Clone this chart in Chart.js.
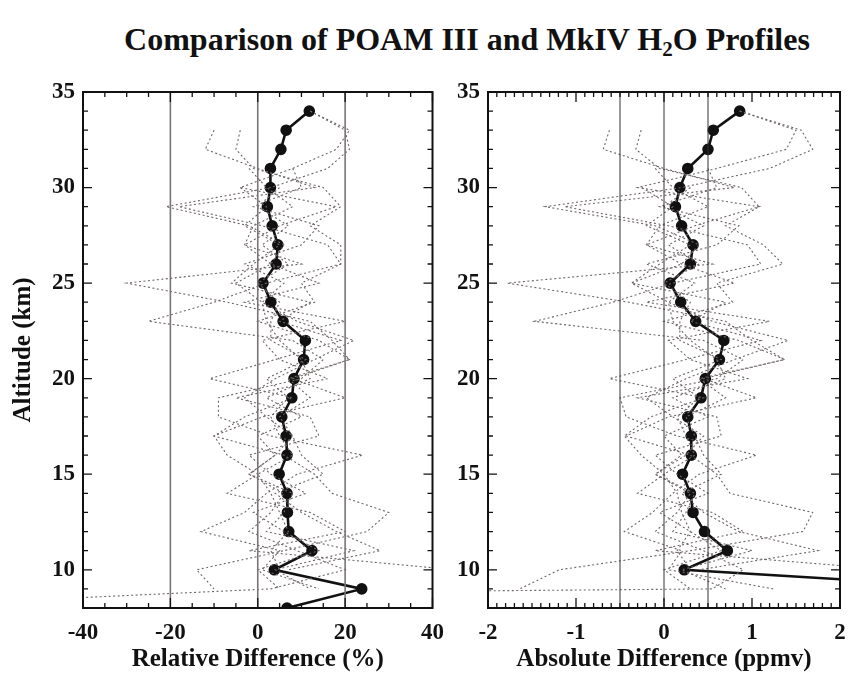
<!DOCTYPE html>
<html>
<head>
<meta charset="utf-8">
<script src="https://cdn.jsdelivr.net/npm/chart.js@4.4.1/dist/chart.umd.min.js"></script>
<style>
  body { margin: 0; background: #fff; width: 859px; height: 675px; position: relative; overflow: hidden; }
  #title { position: absolute; top: 21px; left: 0; width: 934px; text-align: center;
           font-family: "Liberation Serif", serif; font-weight: bold; font-size: 32px; color: #111; }
  #title sub { font-size: 21px; vertical-align: -6px; line-height: 0; }
  canvas { position: absolute; top: 0; }
  #relChart { left: 0; }
  #absChart { left: 440px; }
</style>
</head>
<body>
<div id="title">Comparison of POAM III and MkIV H<sub>2</sub>O Profiles</div>
<canvas id="relChart" width="455" height="675"></canvas>
<canvas id="absChart" width="419" height="675"></canvas>
<script>
// Altitude grid (km), top to bottom
const altitudes = [34, 33, 32, 31, 30, 29, 28, 27, 26, 25, 24, 23, 22, 21, 20, 19, 18, 17, 16, 15, 14, 13, 12, 11, 10, 9, 8];

// Mean differences (solid line)
const relMean = [11.8, 6.5, 5.3, 2.9, 2.9, 2.2, 3.3, 4.6, 4.2, 1.2, 3.0, 5.8, 10.9, 10.5, 8.3, 7.8, 5.5, 6.5, 6.7, 4.9, 6.7, 6.8, 7.1, 12.4, 3.8, 23.8, 6.7];
const absMean = [0.86, 0.56, 0.50, 0.27, 0.18, 0.13, 0.20, 0.33, 0.30, 0.07, 0.19, 0.36, 0.68, 0.63, 0.47, 0.42, 0.27, 0.31, 0.31, 0.21, 0.30, 0.33, 0.46, 0.72, 0.23, 3.8, 2.7];

// Individual coincidences (dotted lines), relative difference (%)
const relProfiles = [
  [12, 20, 21, 16, 3, -21, -2, 6, 3, -5, 1, 9, 22, 13, 4, -3, 2, 8, 4, -2, 6, 3, -2, 9, 20, 3, -92],
  [12, 21, 18, 8, -4, 18, 5, -3, 10, -30, -7, 12, 17, 21, 8, 20, 1, -10, 6, 13, 17, 30, 25, 6, -14, -10, null],
  [null, -10, -12, 0, 13, -18, 1, 16, 19, 2, -10, -25, 8, 15, 10, -9, -9, 3, 24, 9, 2, -3, -13, 5, 1, 14, null],
  [null, -4, -5, -1, 15, 19, 12, 19, 19, 10, 13, 0, 14, 21, 7, 12, 5, 8, 10, 15, 4, 10, 18, 28, 7, null, null],
  [null, null, null, null, -4, 2, -3, 5, -1, -6, 12, 5, 19, 4, -11, 8, -3, -10, -7, 0, -7, 12, 20, -2, 45, null, null],
  [null, null, null, 8, 10, -1, 14, 10, -3, 6, 1, 2, 5, 10, 12, 2, 10, 0, 4, -2, 8, 6, 2, 22, 4, 12, null],
  [null, null, null, -2, 2, 8, -1, -3, 3, 14, -3, 20, 1, 5, 16, -5, 12, 14, -2, 3, 11, -1, 6, 14, 0, 5, null],
  [null, null, null, null, 5, 0, 7, 1, 7, 0, 5, 3, 3, 11, 2, 7, 3, 5, 8, 0, 3, 5, 7, 3, 5, null, null]
];

// Individual coincidences (dotted lines), absolute difference (ppmv)
const absProfiles = [
  [0.86, 1.56, 1.69, 1.2, 0.2, -1.35, -0.1, 0.4, 0.2, -0.37, 0.05, 0.55, 1.41, 0.8, 0.25, -0.2, 0.1, 0.45, 0.25, -0.1, 0.3, 0.15, -0.1, 0.45, 0.9, 0.55, -25],
  [0.86, 1.5, 1.39, 0.6, -0.3, 1.08, 0.35, -0.2, 0.55, -1.78, -0.4, 0.7, 1.0, 1.37, 0.45, 1.05, 0.05, -0.43, 0.3, 0.6, 0.75, 1.69, 1.58, 0.3, -1.19, -1.64, null],
  [null, -0.62, -0.69, 0, 0.8, -1.13, 0.05, 0.95, 1.1, 0.1, -0.58, -1.47, 0.45, 0.9, 0.6, -0.5, -0.43, 0.15, 1.05, 0.4, 0.1, -0.13, -0.45, 0.2, 0.05, 1.24, null],
  [null, -0.26, -0.32, -0.05, 0.88, 1.08, 0.7, 1.13, 1.35, 0.6, 0.78, 0, 0.85, 1.37, 0.4, 0.7, 0.25, 0.35, 0.45, 0.65, 0.2, 0.45, 0.85, 1.75, 0.4, null, null],
  [null, null, null, null, -0.25, 0.1, -0.2, 0.3, -0.05, -0.37, 0.7, 0.3, 1.1, 0.25, -0.62, 0.45, -0.15, -0.45, -0.26, 0, -0.3, 0.55, 0.9, -0.1, 2.6, null, null],
  [null, null, null, 0.5, 0.6, -0.05, 0.85, 0.6, -0.2, 0.35, 0.05, 0.1, 0.3, 0.6, 0.7, 0.1, 0.5, 0, 0.2, -0.1, 0.35, 0.25, 0.1, 1.0, 0.2, 0.7, null],
  [null, null, null, -0.1, 0.1, 0.5, -0.05, -0.2, 0.2, 0.8, -0.2, 1.2, 0.05, 0.3, 0.95, -0.3, 0.6, 0.65, -0.1, 0.15, 0.5, -0.05, 0.3, 0.65, 0, 0.3, null],
  [null, null, null, null, 0.3, 0, 0.45, 0.05, 0.4, 0, 0.3, 0.18, 0.18, 0.65, 0.1, 0.4, 0.15, 0.25, 0.35, 0, 0.15, 0.2, 0.3, 0.15, 0.3, null, null]
];

// Axes
const altRange = [8, 35];
const altTicks = [10, 15, 20, 25, 30, 35];
const relRange = [-40, 40];
const relTicks = [-40, -20, 0, 20, 40];
const relRefLines = [-20, 0, 20];
const absRange = [-2, 2];
const absTicks = [-2, -1, 0, 1, 2];
const absRefLines = [-0.5, 0, 0.5];

const serif = 'Liberation Serif';

function toPoints(values) {
  return altitudes.map((a, i) => ({ x: values[i], y: a })).filter(p => p.x !== null);
}

// box frame + inward ticks on all four sides
const framePlugin = {
  id: 'frame',
  afterDatasetsDraw(chart, args, opts) {
    const { ctx, chartArea: a, scales: { x, y } } = chart;
    ctx.save();
    ctx.strokeStyle = '#111';
    ctx.lineWidth = 1.3;
    ctx.beginPath();
    const nx = Math.round((x.max - x.min) / opts.xMinor);
    for (let i = 0; i <= nx; i++) {
      const v = x.min + i * opts.xMinor;
      const px = x.getPixelForValue(v);
      const r = v / opts.xMajor;
      const len = Math.abs(r - Math.round(r)) < 1e-6 ? 10 : 5;
      ctx.moveTo(px, a.bottom); ctx.lineTo(px, a.bottom - len);
      ctx.moveTo(px, a.top); ctx.lineTo(px, a.top + len);
    }
    for (let v = Math.ceil(y.min); v <= y.max; v++) {
      const py = y.getPixelForValue(v);
      const len = v % 5 === 0 ? 9 : 5;
      ctx.moveTo(a.left, py); ctx.lineTo(a.left + len, py);
      ctx.moveTo(a.right, py); ctx.lineTo(a.right - len, py);
    }
    ctx.stroke();
    ctx.lineWidth = 2;
    ctx.strokeRect(a.left, a.top, a.right - a.left, a.bottom - a.top);
    ctx.restore();
  }
};

function makePanel(canvasId, cfg) {
  const datasets = [];
  cfg.refLines.forEach(v => {
    datasets.push({
      data: [{ x: v, y: altRange[0] }, { x: v, y: altRange[1] }],
      showLine: true, borderColor: cfg.refColor, borderWidth: cfg.refWidth,
      pointRadius: 0, clip: 0
    });
  });
  cfg.profiles.forEach(p => {
    datasets.push({
      data: toPoints(p),
      showLine: true, borderColor: '#6f6666', borderWidth: 1.1, borderDash: [2, 2.5],
      pointRadius: 0, clip: 0
    });
  });
  datasets.push({
    data: toPoints(cfg.mean),
    showLine: true, borderColor: '#111', borderWidth: 2.6,
    pointRadius: 4.5, pointBackgroundColor: '#111', pointBorderColor: '#111', clip: 0
  });

  return new Chart(document.getElementById(canvasId), {
    type: 'scatter',
    data: { datasets },
    options: {
      responsive: false,
      animation: false,
      layout: { padding: { top: 92, right: cfg.padRight, left: 0, bottom: 0 } },
      plugins: {
        legend: { display: false },
        tooltip: { enabled: false },
        frame: { xMinor: cfg.xMinor, xMajor: cfg.xMajor }
      },
      scales: {
        x: {
          type: 'linear', min: cfg.range[0], max: cfg.range[1],
          afterBuildTicks: axis => { axis.ticks = cfg.ticks.map(v => ({ value: v })); },
          afterFit: axis => { axis.height = 67; },
          grid: { display: false, drawTicks: false },
          border: { display: false },
          ticks: { color: '#111', padding: 11, maxRotation: 0, font: { family: serif, weight: 'bold', size: 23 } },
          title: { display: true, text: cfg.xTitle, color: '#111', padding: { top: 0, bottom: 0 },
                   font: { family: serif, weight: 'bold', size: 25 } }
        },
        y: {
          type: 'linear', min: altRange[0], max: altRange[1],
          afterBuildTicks: axis => { axis.ticks = altTicks.map(v => ({ value: v })); },
          afterFit: axis => { axis.width = cfg.yWidth; },
          grid: { display: false, drawTicks: false },
          border: { display: false },
          ticks: { color: '#111', padding: 8, font: { family: serif, weight: 'bold', size: 23 } },
          title: { display: cfg.yTitle !== '', text: cfg.yTitle, color: '#111', padding: { top: 9, bottom: 0 },
                   font: { family: serif, weight: 'bold', size: 25 } }
        }
      }
    },
    plugins: [framePlugin]
  });
}

makePanel('relChart', {
  range: relRange, ticks: relTicks, refLines: relRefLines, refColor: '#7a7474', refWidth: 1.6,
  profiles: relProfiles, mean: relMean, xTitle: 'Relative Difference (%)', yTitle: 'Altitude (km)',
  yWidth: 83, padRight: 21, xMinor: 5, xMajor: 20
});

makePanel('absChart', {
  range: absRange, ticks: absTicks, refLines: absRefLines, refColor: '#333', refWidth: 1,
  profiles: absProfiles, mean: absMean, xTitle: 'Absolute Difference (ppmv)', yTitle: '',
  yWidth: 48, padRight: 19, xMinor: 0.1, xMajor: 1
});
</script>
</body>
</html>
